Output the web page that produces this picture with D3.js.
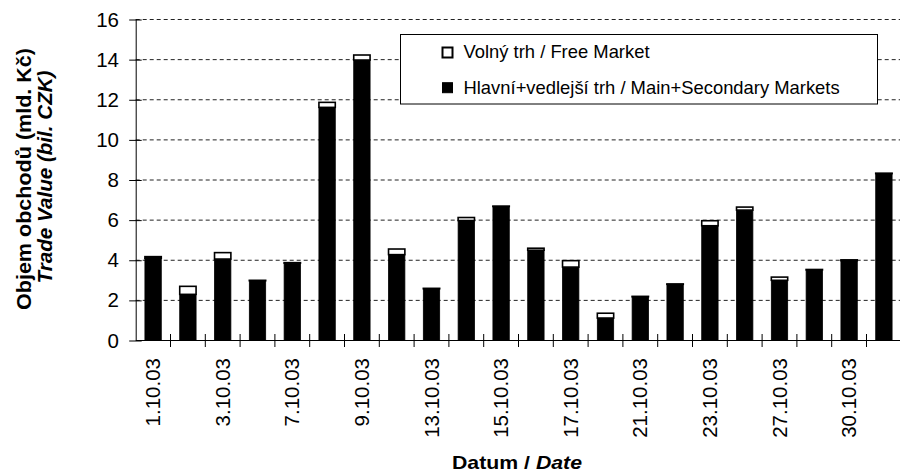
<!DOCTYPE html>
<html>
<head>
<meta charset="utf-8">
<script src="https://cdn.jsdelivr.net/npm/d3@7"></script>
<style>
  html, body { margin: 0; padding: 0; background: #fff; }
  svg { display: block; }
  text { font-family: "Liberation Sans", Arial, sans-serif; fill: #000; }
</style>
</head>
<body>
<svg id="chart" width="900" height="472"></svg>
<script>
// ---- data ----
const dates = ["1.10.03","2.10.03","3.10.03","6.10.03","7.10.03","8.10.03","9.10.03","10.10.03",
  "13.10.03","14.10.03","15.10.03","16.10.03","17.10.03","20.10.03","21.10.03","22.10.03",
  "23.10.03","24.10.03","27.10.03","29.10.03","30.10.03","31.10.03"];
const mainMarkets = [4.10, 2.30, 4.06, 2.98, 3.86, 11.62, 13.98, 4.28, 2.58, 5.98, 6.68, 4.50,
  3.66, 1.12, 2.18, 2.80, 5.72, 6.50, 3.00, 3.52, 3.98, 8.32];
const freeMarket = [0.08, 0.40, 0.32, 0.02, 0.02, 0.25, 0.25, 0.28, 0.02, 0.15, 0.02, 0.10,
  0.32, 0.24, 0.02, 0.02, 0.25, 0.15, 0.16, 0.02, 0.04, 0.02];
const xTickLabels = ["1.10.03","3.10.03","7.10.03","9.10.03","13.10.03","15.10.03","17.10.03",
  "21.10.03","23.10.03","27.10.03","30.10.03"];
const yTicks = [0, 2, 4, 6, 8, 10, 12, 14, 16];
const seriesNames = ["Volný trh / Free Market", "Hlavní+vedlejší trh / Main+Secondary Markets"];

// ---- layout ----
const svg = d3.select("#chart");
const L = 135.7, R = 901.3, T = 19.5, B = 340.5;

const xCat = d3.scaleBand().domain(dates).range([L, R]).padding(0);
const x = d3.scaleBand().domain(dates).range([L, R]).paddingInner(0.53).paddingOuter(0.265);
const y = d3.scaleLinear().domain([0, 16]).range([B, T]);

// gridlines
svg.append("g").selectAll("line").data(yTicks.filter(v => v > 0)).join("line")
  .attr("x1", L).attr("x2", 900).attr("y1", d => y(d)).attr("y2", d => y(d))
  .attr("stroke", "#222").attr("stroke-width", 1).attr("stroke-dasharray", "4,3");

// bars
const rows = dates.map((d, i) => ({ d, main: mainMarkets[i], free: freeMarket[i] }));
const gb = svg.append("g");
gb.selectAll("rect.main").data(rows).join("rect").attr("class", "main")
  .attr("x", r => x(r.d)).attr("width", x.bandwidth())
  .attr("y", r => y(r.main)).attr("height", r => y(0) - y(r.main))
  .attr("fill", "#000").attr("stroke", "#000").attr("stroke-width", 0.8);
gb.selectAll("rect.free").data(rows).join("rect").attr("class", "free")
  .attr("x", r => x(r.d)).attr("width", x.bandwidth())
  .attr("y", r => y(r.main + r.free)).attr("height", r => y(r.main) - y(r.main + r.free))
  .attr("fill", "#fff").attr("stroke", "#000").attr("stroke-width", 1.6);

// y axis
const yAxis = svg.append("g").attr("transform", `translate(${L},0)`)
  .call(d3.axisLeft(y).tickValues(yTicks).tickSizeInner(6.5).tickSizeOuter(0).tickPadding(10.2));
yAxis.select(".domain").attr("stroke", "#000").attr("d", `M0.5,${T}V${B}`);
yAxis.selectAll(".tick line").attr("x1", 6).attr("x2", -6.5).attr("stroke", "#000");
yAxis.selectAll(".tick text").attr("font-size", "20.5px")
  .style("font-family", "'Liberation Sans', Arial, sans-serif");

// x axis
const xAxis = svg.append("g").attr("transform", `translate(0,${B})`)
  .call(d3.axisBottom(xCat).tickSize(0).tickFormat(d => xTickLabels.includes(d) ? d : ""));
xAxis.select(".domain").attr("stroke", "#000").attr("d", `M${L},0H900`);
xAxis.selectAll(".tick text")
  .attr("transform", "rotate(-90)").attr("text-anchor", "end")
  .attr("x", -17.5).attr("y", 0).attr("dy", "0.35em")
  .attr("font-size", "20.5px")
  .style("font-family", "'Liberation Sans', Arial, sans-serif");
// category boundary tick marks (crossing)
xAxis.append("g").selectAll("line").data(dates.slice(1)).join("line")
  .attr("x1", d => xCat(d)).attr("x2", d => xCat(d))
  .attr("y1", -6.5).attr("y2", 6.5).attr("stroke", "#000").attr("stroke-width", 1);

// y axis title
const yt = svg.append("g");
yt.append("text").attr("transform", "translate(31,179) rotate(-90)")
  .attr("text-anchor", "middle").attr("font-size", "21px").attr("font-weight", "bold")
  .attr("textLength", 262).attr("lengthAdjust", "spacingAndGlyphs")
  .text("Objem obchodů (mld. Kč)");
yt.append("text").attr("transform", "translate(52,177) rotate(-90)")
  .attr("text-anchor", "middle").attr("font-size", "21px").attr("font-weight", "bold")
  .attr("font-style", "italic")
  .attr("textLength", 213).attr("lengthAdjust", "spacingAndGlyphs")
  .text("Trade Value (bil. CZK)");

// x axis title
const xt = svg.append("text").attr("x", 517).attr("y", 469.3).attr("text-anchor", "middle")
  .attr("font-size", "19px").attr("font-weight", "bold")
  .attr("textLength", 130).attr("lengthAdjust", "spacingAndGlyphs");
xt.append("tspan").text("Datum / ");
xt.append("tspan").attr("font-style", "italic").text("Date");

// legend
const lg = svg.append("g");
lg.append("rect").attr("x", 400.5).attr("y", 34.5).attr("width", 477).attr("height", 69.5)
  .attr("fill", "#fff").attr("stroke", "#000").attr("stroke-width", 1);
const legendItems = [
  { name: seriesNames[0], fill: "#fff", sw: 2, yb: 57.5, ym: 47.5 },
  { name: seriesNames[1], fill: "#000", sw: 1, yb: 93.7, ym: 82.7 }
];
lg.selectAll("rect.mk").data(legendItems).join("rect").attr("class", "mk")
  .attr("x", 442.5).attr("y", d => d.ym).attr("width", 10).attr("height", 10)
  .attr("fill", d => d.fill).attr("stroke", "#000").attr("stroke-width", d => d.sw);
lg.selectAll("text").data(legendItems).join("text")
  .attr("x", 463.5).attr("y", d => d.yb).attr("font-size", "18.4px").text(d => d.name);
</script>
</body>
</html>
